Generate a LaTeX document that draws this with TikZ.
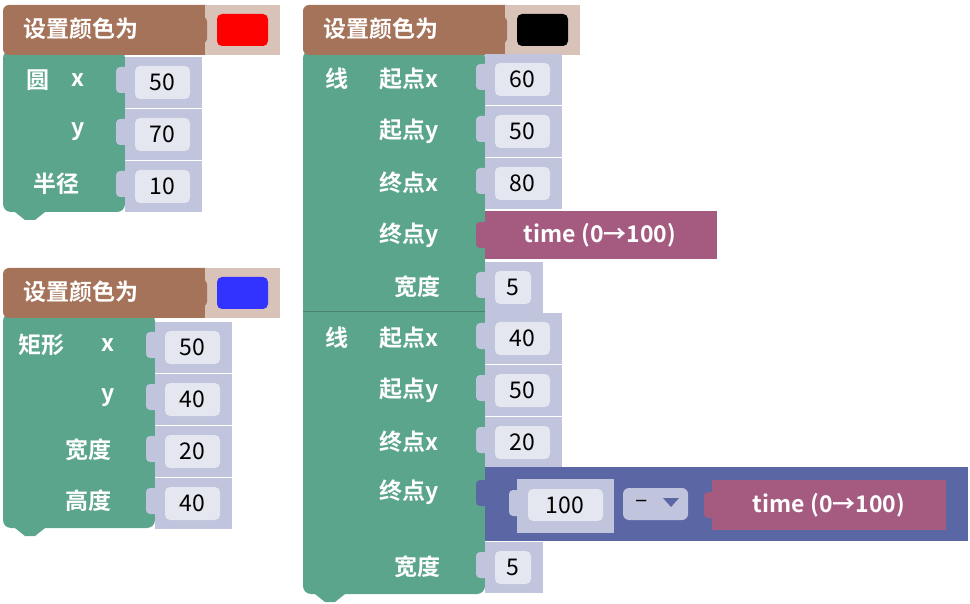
\documentclass[tikz,border=0pt]{standalone}
\usepackage{fontspec}
\setmainfont{Noto Sans CJK SC}[BoldFont={Noto Sans CJK SC Bold}]
\usetikzlibrary{positioning}
\definecolor{hdr}{HTML}{A5735A}
\definecolor{fld}{HTML}{D9C3B8}
\definecolor{grn}{HTML}{5BA58C}
\definecolor{lav}{HTML}{C0C4DC}
\definecolor{pil}{HTML}{E4E6F0}
\definecolor{tim}{HTML}{A55B80}
\definecolor{mth}{HTML}{5B67A5}
\tikzset{
  lbl/.style={text=white,font=\bfseries\fontsize{23}{26}\selectfont,inner sep=0pt},
  num/.style={text=black,font=\fontsize{23}{26}\selectfont,inner sep=0pt},
  pill/.style={fill=pil,rounded corners=5pt},
}
% value row: x, width, top, value
\newcommand\valrow[4]{%
  \fill[lav] (#1,#3) rectangle ++(#2,51);
  \fill[lav,rounded corners=4pt] (#1-9,#3+10) rectangle ++(14,26);
  \fill[pill] (#1+10,#3+9) rectangle (#1+#2-12,#3+42);
  \node[num] at (#1+#2/2-1,#3+25) {#4};}
% header: x, top, swatch colour
\newcommand\header[3]{%
  \fill[hdr,rounded corners=6pt] (#1,#2) rectangle ++(210,50);
  \fill[fld] (#1+202,#2) rectangle ++(75,50);
  \fill[hdr,rounded corners=4pt] (#1+190,#2+12) rectangle ++(14,26);
  \fill[#3,rounded corners=5pt] (#1+214,#2+9) rectangle ++(51,32);
  \node[lbl,anchor=west] at (#1+20,#2+24) {设置颜色为};}
\begin{document}
\begin{tikzpicture}[x=1pt,y=-1pt]
\useasboundingbox (0,0) rectangle (970,604);

% circle block
\fill[grn,rounded corners=8pt] (3,50) rectangle (125,212);
\fill[grn] (15,212) -- (45,212) -- (35,220) -- (25,220) -- cycle;
\header{3}{5}{red}
\valrow{125}{77}{57}{50}
\valrow{125}{77}{109}{70}
\valrow{125}{77}{161}{10}
\node[lbl] at (38,80) {圆};
\node[lbl] at (78,80) {x};
\node[lbl] at (78,132) {y};
\node[lbl] at (57,184) {半径};

% rectangle block
\fill[grn,rounded corners=8pt] (3,313) rectangle (155,528);
\fill[grn] (15,528) -- (45,528) -- (35,536) -- (25,536) -- cycle;
\header{3}{268}{blue!80}
\valrow{155}{77}{322}{50}
\valrow{155}{77}{374}{40}
\valrow{155}{77}{426}{20}
\valrow{155}{77}{478}{40}
\node[lbl] at (42,345) {矩形};
\node[lbl] at (108,345) {x};
\node[lbl] at (108,398) {y};
\node[lbl] at (88,450) {宽度};
\node[lbl] at (88,501) {高度};

% line blocks
\fill[grn,rounded corners=8pt] (303,50) rectangle (485,594);
\draw[grn!80!black,line width=1pt] (303,312) -- (485,312);
\fill[grn] (315,594) -- (345,594) -- (335,602) -- (325,602) -- cycle;
\header{303}{5}{black}
\valrow{485}{77}{54}{60}
\valrow{485}{77}{106}{50}
\valrow{485}{77}{158}{80}
\fill[tim,rounded corners=4pt] (476,222) rectangle ++(14,26);
\fill[tim] (485,211) rectangle (717,259);
\node[lbl] at (600,235) {time (0→100)};
\valrow{485}{58}{262}{5}
\node[lbl] at (337,79) {线};
\node[lbl] at (409,79) {起点x};
\node[lbl] at (409,131) {起点y};
\node[lbl] at (409,183) {终点x};
\node[lbl] at (409,235) {终点y};
\node[lbl] at (417,287) {宽度};

\valrow{485}{77}{313}{40}
\valrow{485}{77}{365}{50}
\valrow{485}{77}{417}{20}
\fill[mth,rounded corners=4pt] (476,480) rectangle ++(14,26);
\fill[mth] (485,467) rectangle (968,541);
\fill[lav] (517,479) rectangle (614,533);
\fill[lav,rounded corners=4pt] (509,490) rectangle ++(14,26);
\fill[pill] (528,489) rectangle (603,521);
\node[num] at (565,505) {100};
\fill[lav,rounded corners=6pt] (623,488) rectangle (688,520);
\node[num] at (642,504) {–};
\fill[mth] (663,498) -- (679,498) -- (671,507) -- cycle;
\fill[tim,rounded corners=4pt] (704,492) rectangle ++(14,26);
\fill[tim] (712,480) rectangle (946,530);
\node[lbl] at (829,505) {time (0→100)};
\valrow{485}{58}{542}{5}
\node[lbl] at (337,338) {线};
\node[lbl] at (409,338) {起点x};
\node[lbl] at (409,390) {起点y};
\node[lbl] at (409,442) {终点x};
\node[lbl] at (409,492) {终点y};
\node[lbl] at (417,567) {宽度};
\end{tikzpicture}
\end{document}
